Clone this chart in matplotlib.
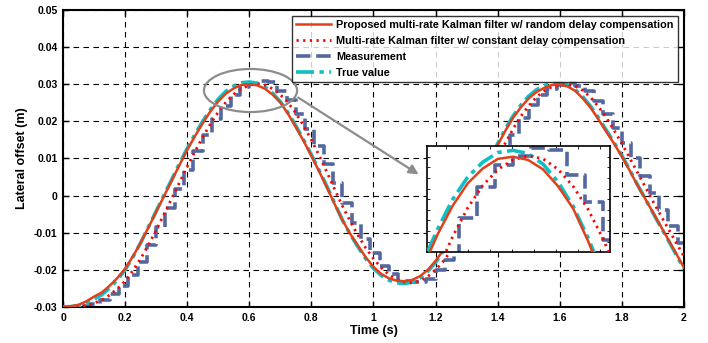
import numpy as np
import matplotlib.pyplot as plt
from matplotlib.patches import Ellipse
from matplotlib.ticker import FuncFormatter

plt.rcParams['font.family'] = ['Liberation Sans', 'DejaVu Sans']
plt.rcParams['font.weight'] = 'bold'

# time base of the filtered signals (s)
t = np.arange(81) * 0.025

true_value = [-0.0300, -0.0299, -0.0297, -0.0290, -0.0279, -0.0267, -0.0249, -0.0227,
              -0.0200, -0.0166, -0.0127, -0.0085, -0.0042, 0.0001, 0.0043, 0.0086,
              0.0127, 0.0165, 0.0200, 0.0232, 0.0260, 0.0281, 0.0295, 0.0304,
              0.0306, 0.0303, 0.0293, 0.0276, 0.0253, 0.0223, 0.0188, 0.0150,
              0.0110, 0.0068, 0.0025, -0.0021, -0.0066, -0.0104, -0.0138, -0.0170,
              -0.0196, -0.0215, -0.0228, -0.0235, -0.0237, -0.0233, -0.0222, -0.0204,
              -0.0180, -0.0150, -0.0116, -0.0079, -0.0038, 0.0005, 0.0050, 0.0096,
              0.0140, 0.0180, 0.0215, 0.0244, 0.0268, 0.0285, 0.0296, 0.0303,
              0.0304, 0.0298, 0.0285, 0.0265, 0.0240, 0.0209, 0.0176, 0.0143,
              0.0108, 0.0070, 0.0030, -0.0008, -0.0046, -0.0084, -0.0121, -0.0159,
              -0.0197]

proposed = [-0.0300, -0.0298, -0.0294, -0.0285, -0.0272, -0.0261, -0.0243, -0.0222,
            -0.0197, -0.0164, -0.0127, -0.0086, -0.0044, -0.0002, 0.0040, 0.0082,
            0.0123, 0.0160, 0.0195, 0.0227, 0.0254, 0.0275, 0.0289, 0.0298,
            0.0300, 0.0297, 0.0288, 0.0272, 0.0251, 0.0220, 0.0184, 0.0147,
            0.0107, 0.0065, 0.0022, -0.0023, -0.0066, -0.0103, -0.0135, -0.0166,
            -0.0192, -0.0211, -0.0223, -0.0229, -0.0231, -0.0227, -0.0217, -0.0200,
            -0.0176, -0.0147, -0.0113, -0.0077, -0.0037, 0.0004, 0.0048, 0.0093,
            0.0136, 0.0175, 0.0210, 0.0238, 0.0262, 0.0279, 0.0290, 0.0298,
            0.0299, 0.0294, 0.0282, 0.0261, 0.0236, 0.0205, 0.0172, 0.0140,
            0.0105, 0.0068, 0.0028, -0.0008, -0.0045, -0.0082, -0.0119, -0.0156,
            -0.0194]

const_delay = [-0.0300, -0.0300, -0.0299, -0.0296, -0.0290, -0.0281, -0.0268, -0.0251,
               -0.0230, -0.0202, -0.0170, -0.0133, -0.0093, -0.0051, -0.0008, 0.0035,
               0.0078, 0.0119, 0.0157, 0.0193, 0.0225, 0.0252, 0.0273, 0.0288,
               0.0297, 0.0301, 0.0298, 0.0288, 0.0272, 0.0250, 0.0222, 0.0188,
               0.0150, 0.0108, 0.0063, 0.0017, -0.0028, -0.0069, -0.0107, -0.0141,
               -0.0170, -0.0194, -0.0213, -0.0226, -0.0233, -0.0235, -0.0230, -0.0218,
               -0.0200, -0.0177, -0.0148, -0.0114, -0.0075, -0.0032, 0.0012, 0.0056,
               0.0100, 0.0142, 0.0180, 0.0214, 0.0242, 0.0265, 0.0282, 0.0293,
               0.0298, 0.0299, 0.0295, 0.0283, 0.0264, 0.0239, 0.0210, 0.0176,
               0.0140, 0.0102, 0.0063, 0.0024, -0.0015, -0.0053, -0.0090, -0.0127,
               -0.0163]

# sensor samples, held until the next one arrives
t_meas = np.append(np.arange(67) * 0.03, 2.0)
meas = [-0.0300, -0.0300, -0.0298, -0.0292, -0.0281, -0.0264, -0.0244, -0.0215,
        -0.0178, -0.0134, -0.0085, -0.0033, 0.0017, 0.0068, 0.0119, 0.0164,
        0.0206, 0.0242, 0.0271, 0.0292, 0.0301, 0.0308, 0.0306, 0.0283,
        0.0257, 0.0221, 0.0180, 0.0133, 0.0084, 0.0033, -0.0020, -0.0073,
        -0.0116, -0.0155, -0.0190, -0.0212, -0.0229, -0.0234, -0.0233, -0.0224,
        -0.0201, -0.0174, -0.0135, -0.0093, -0.0046, 0.0006, 0.0059, 0.0113,
        0.0163, 0.0208, 0.0243, 0.0271, 0.0288, 0.0298, 0.0303, 0.0295,
        0.0281, 0.0254, 0.0221, 0.0182, 0.0142, 0.0100, 0.0053, 0.0007,
        -0.0038, -0.0083, -0.0129]
meas = meas + [meas[-1]]

labels = ['Proposed multi-rate Kalman filter w/ random delay compensation',
          'Multi-rate Kalman filter w/ constant delay compensation',
          'Measurement',
          'True value']

C_PROP = '#e2401a'
C_CONST = '#ff0000'
C_MEAS = '#5468a0'
C_TRUE = '#10bfc4'


def draw_curves(ax):
    h_true, = ax.plot(t, true_value, color=C_TRUE, lw=2.6, ls=(0, (5, 1.5, 1.2, 1.5)), zorder=3)
    h_meas, = ax.plot(t_meas, meas, color=C_MEAS, lw=2.6, ls=(0, (4, 1.6)),
                      drawstyle='steps-post', zorder=2)
    h_const, = ax.plot(t, const_delay, color=C_CONST, lw=2.0, ls=(0, (0.8, 1.6)), zorder=4)
    h_prop, = ax.plot(t, proposed, color=C_PROP, lw=1.8, zorder=5)
    return [h_prop, h_const, h_meas, h_true]


fig = plt.figure(figsize=(7.08, 3.43), dpi=100)
ax = fig.add_axes([0.089, 0.105, 0.877, 0.866])

handles = draw_curves(ax)

ax.set_xlim(0, 2)
ax.set_ylim(-0.03, 0.05)
ax.set_xticks(np.arange(0, 2.01, 0.2))
ax.set_yticks(np.arange(-0.03, 0.051, 0.01))
fmt = FuncFormatter(lambda v, p: ('%g' % round(v, 3)))
ax.xaxis.set_major_formatter(fmt)
ax.yaxis.set_major_formatter(fmt)
ax.tick_params(direction='in', top=True, right=True, length=4, width=1,
               labelsize=7.5, pad=4)
ax.grid(True, color='black', ls=(0, (5, 4)), lw=0.8)
for s in ax.spines.values():
    s.set_linewidth(1.5)
ax.set_xlabel('Time (s)', fontsize=9, fontweight='bold', labelpad=2)
ax.set_ylabel('Lateral offset (m)', fontsize=9, fontweight='bold', labelpad=4)

leg = ax.legend(handles, labels, loc='upper right', bbox_to_anchor=(0.99, 0.98),
                fontsize=7.8, frameon=True, fancybox=False, borderaxespad=0,
                handlelength=3.2, handletextpad=0.45, labelspacing=0.55,
                borderpad=0.4)
leg.get_frame().set_edgecolor('black')
leg.get_frame().set_linewidth(1.0)
leg.set_zorder(10)

# zoom marker around the first peak
ax.add_patch(Ellipse((0.604, 0.0283), 0.30, 0.0116, fill=False,
                     edgecolor='#8c8c8c', lw=1.6, zorder=6))
ax.annotate('', xy=(1.153, 0.0053), xytext=(0.750, 0.0268),
            arrowprops=dict(arrowstyle='-|>', color='#8c8c8c', lw=1.6,
                            mutation_scale=14), zorder=6)

# magnified view of the first peak
axin = fig.add_axes([0.603, 0.265, 0.2585, 0.309])
draw_curves(axin)
axin.set_xlim(0.457, 0.761)
axin.set_ylim(0.021, 0.031)
axin.set_xticks(0.4893 + np.arange(8) * 0.0365)
axin.set_yticks(np.arange(0.022, 0.0305, 0.001))
axin.tick_params(direction='in', top=True, right=True, length=2.5, width=0.6,
                 labelbottom=False, labelleft=False)
for s in axin.spines.values():
    s.set_linewidth(1.2)

fig.savefig('out.png', dpi=100)
